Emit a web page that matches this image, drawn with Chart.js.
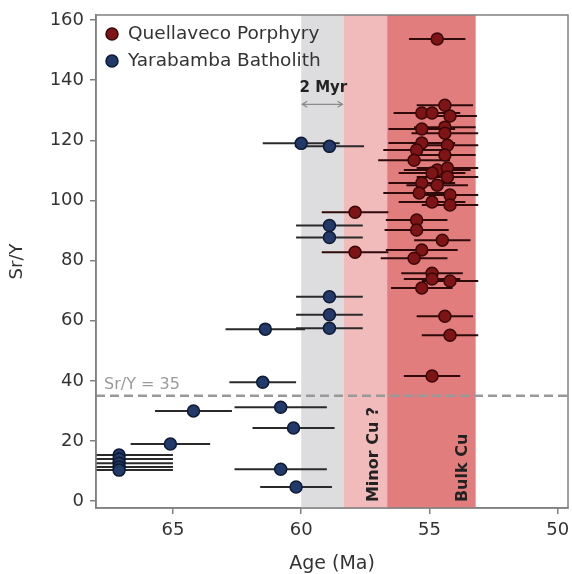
<!DOCTYPE html>
<html lang="en">
<head>
  <meta charset="UTF-8">
  <title>Sr/Y vs Age</title>
  <script src="https://cdnjs.cloudflare.com/ajax/libs/Chart.js/4.4.1/chart.umd.min.js"></script>
  <style>
    body { margin: 0; background: #fff; }
    #chart-container { width: 572px; height: 574px; }
  </style>
</head>
<body>
  <div id="chart-container">
    <canvas id="myChart" width="572" height="574"></canvas>
  </div>
  <script>
    // Quellaveco Porphyry: age (Ma), Sr/Y, age error (Ma)
    const quellAge = [54.7, 54.4, 55.3, 54.9, 54.2, 55.3, 54.4, 54.4, 55.3, 54.3,
                      55.5, 54.4, 55.6, 54.7, 54.3, 54.9, 54.3, 55.3, 54.7, 55.4,
                      54.2, 54.9, 54.2, 55.5, 55.5, 54.5, 55.3, 55.6, 54.9, 54.9,
                      54.2, 55.3, 54.4, 54.2, 54.9, 57.9, 57.9];
    const quellSrY = [153.7, 131.7, 129.1, 129.1, 128.1, 123.8, 124.4, 122.4, 119.1, 118.4,
                      116.8, 115.1, 113.4, 110.1, 110.8, 109.1, 107.8, 105.8, 105.1, 102.5,
                      101.8, 99.5, 98.5, 93.5, 90.2, 86.8, 83.5, 80.8, 75.8, 73.9,
                      73.2, 70.9, 61.5, 55.2, 41.6, 96.1, 82.8];
    const quellErr = [1.1, 1.1, 1.1, 1.1, 1.05, 1.3, 1.2, 1.3, 1.3, 1.2,
                      1.3, 1.2, 1.4, 1.3, 1.2, 1.3, 1.2, 1.3, 1.2, 1.4,
                      1.1, 1.3, 1.1, 1.2, 1.25, 1.1, 1.4, 1.3, 1.2, 1.1,
                      1.1, 1.2, 1.1, 1.1, 1.1, 1.3, 1.3];

    // Yarabamba Batholith
    const yaraAge = [60.0, 58.9, 58.9, 58.9, 58.9, 58.9, 58.9, 61.4, 61.5, 64.2,
                     60.8, 60.3, 65.1, 60.8, 60.2, 67.1, 67.1, 67.1, 67.1, 67.1];
    const yaraSrY = [119, 118, 91.7, 87.7, 68, 62, 57.5, 57.2, 39.5, 30,
                     31.2, 24.3, 19, 10.6, 4.7, 15.3, 14, 12.6, 11.3, 10.3];
    const yaraErr = [1.5, 1.35, 1.3, 1.3, 1.3, 1.3, 1.3, 1.55, 1.3, 1.5,
                     1.8, 1.6, 1.55, 1.8, 1.4, 2.1, 2.1, 2.1, 2.1, 2.1];

    const xTicks = [65, 60, 55, 50];
    const yTicks = [0, 20, 40, 60, 80, 100, 120, 140, 160];

    // age windows (Ma)
    const bandStart = [60, 58.35, 56.65];
    const bandEnd = [58.35, 56.65, 53.2];
    const bandColor = ['#dddddf', '#f1bbbb', '#e27d7d'];
    const srYThreshold = 35;

    const FONT = 'DejaVu Sans';

    function toPoints(age, val, err) {
      return age.map((a, i) => ({ x: a, y: val[i], err: err[i] }));
    }

    const overlay = {
      id: 'overlay',
      beforeDatasetsDraw(chart) {
        const { ctx, chartArea: a, scales: { x, y } } = chart;
        ctx.save();
        ctx.beginPath();
        ctx.rect(a.left, a.top, a.width, a.height);
        ctx.clip();

        bandStart.forEach((s, i) => {
          const x0 = x.getPixelForValue(s), x1 = x.getPixelForValue(bandEnd[i]);
          ctx.fillStyle = bandColor[i];
          ctx.fillRect(Math.min(x0, x1), a.top, Math.abs(x1 - x0), a.height);
        });

        // Sr/Y = 35 line
        const yt = y.getPixelForValue(srYThreshold);
        ctx.strokeStyle = '#999';
        ctx.lineWidth = 2.5;
        ctx.setLineDash([9, 5]);
        ctx.beginPath();
        ctx.moveTo(a.left, yt);
        ctx.lineTo(a.right, yt);
        ctx.stroke();
        ctx.setLineDash([]);

        // horizontal age error bars
        for (let d = chart.data.datasets.length - 1; d >= 0; d--) {
          const ds = chart.data.datasets[d];
          ctx.strokeStyle = ds.errColor;
          ctx.lineWidth = 2;
          ds.data.forEach(p => {
            const py = y.getPixelForValue(p.y);
            ctx.beginPath();
            ctx.moveTo(x.getPixelForValue(p.x + p.err), py);
            ctx.lineTo(x.getPixelForValue(p.x - p.err), py);
            ctx.stroke();
          });
        }
        ctx.restore();
      },
      afterDatasetsDraw(chart) {
        const { ctx, chartArea: a, scales: { x, y } } = chart;
        ctx.save();

        // threshold label
        ctx.fillStyle = '#9a9a9a';
        ctx.font = '16px ' + FONT;
        ctx.textAlign = 'left';
        ctx.textBaseline = 'alphabetic';
        ctx.fillText('Sr/Y = 35', a.left + 8, y.getPixelForValue(srYThreshold) - 7);

        // 2 Myr arrow
        const ax0 = x.getPixelForValue(bandStart[0]);
        const ax1 = x.getPixelForValue(bandEnd[0]);
        const ay = y.getPixelForValue(132);
        ctx.strokeStyle = '#8a8a8a';
        ctx.lineWidth = 1.2;
        ctx.beginPath();
        ctx.moveTo(ax0 + 1, ay); ctx.lineTo(ax1 - 1, ay);
        ctx.moveTo(ax0 + 6, ay - 3); ctx.lineTo(ax0 + 1, ay); ctx.lineTo(ax0 + 6, ay + 3);
        ctx.moveTo(ax1 - 6, ay - 3); ctx.lineTo(ax1 - 1, ay); ctx.lineTo(ax1 - 6, ay + 3);
        ctx.stroke();
        ctx.fillStyle = '#222';
        ctx.font = 'bold 15px ' + FONT;
        ctx.textAlign = 'center';
        ctx.fillText('2 Myr', (ax0 + ax1) / 2 + 1, y.getPixelForValue(136));

        // rotated band labels
        ctx.font = 'bold 16px ' + FONT;
        ctx.textAlign = 'left';
        ctx.textBaseline = 'middle';
        [['Minor Cu ?', 57.15], ['Bulk Cu', 53.7]].forEach(([t, age]) => {
          ctx.save();
          ctx.translate(x.getPixelForValue(age), y.getPixelForValue(0) + 1);
          ctx.rotate(-Math.PI / 2);
          ctx.fillText(t, 0, 0);
          ctx.restore();
        });

        // legend
        ctx.font = '18.5px ' + FONT;
        ctx.textBaseline = 'middle';
        chart.data.datasets.forEach((ds, i) => {
          const ly = a.top + 19 + i * 27;
          ctx.beginPath();
          ctx.arc(a.left + 16, ly, 6, 0, Math.PI * 2);
          ctx.fillStyle = ds.backgroundColor;
          ctx.fill();
          ctx.lineWidth = 1.5;
          ctx.strokeStyle = ds.borderColor;
          ctx.stroke();
          ctx.fillStyle = '#333';
          ctx.fillText(ds.label, a.left + 32, ly);
        });

        // frame
        ctx.strokeStyle = '#808080';
        ctx.lineWidth = 1.5;
        ctx.strokeRect(a.left, a.top, a.width, a.height);
        ctx.restore();
      }
    };

    const axisGrid = { drawOnChartArea: false, drawTicks: true, tickLength: 6, color: '#808080', lineWidth: 1.5 };

    new Chart(document.getElementById('myChart'), {
      type: 'scatter',
      data: {
        datasets: [{
          label: 'Quellaveco Porphyry',
          data: toPoints(quellAge, quellSrY, quellErr),
          backgroundColor: '#7e1416',
          borderColor: '#3a0707',
          errColor: '#2e0a0a',
          pointRadius: 6,
          borderWidth: 1.5
        }, {
          label: 'Yarabamba Batholith',
          data: toPoints(yaraAge, yaraSrY, yaraErr),
          backgroundColor: '#213a69',
          borderColor: '#0e1a33',
          errColor: '#2a2a2a',
          pointRadius: 6,
          borderWidth: 1.5
        }]
      },
      options: {
        responsive: false,
        animation: false,
        layout: { autoPadding: false, padding: { top: 15, right: 4, left: 0, bottom: 0 } },
        plugins: { legend: { display: false }, tooltip: { enabled: false } },
        scales: {
          x: {
            type: 'linear',
            reverse: true,
            min: 49.6,
            max: 68,
            afterBuildTicks: s => { s.ticks = xTicks.map(v => ({ value: v })); },
            afterFit: s => { s.height = 66; s.paddingLeft = 0; s.paddingRight = 0; },
            grid: axisGrid,
            border: { color: '#808080', width: 1.5 },
            ticks: { font: { family: FONT, size: 18 }, color: '#333', padding: 6, maxRotation: 0 },
            title: { display: true, text: 'Age (Ma)', font: { family: FONT, size: 19, lineHeight: 1 }, color: '#333', padding: 0 }
          },
          y: {
            min: -2.3,
            max: 161.7,
            afterBuildTicks: s => { s.ticks = yTicks.map(v => ({ value: v })); },
            afterFit: s => { s.width = 96; s.paddingTop = 0; s.paddingBottom = 0; },
            grid: axisGrid,
            border: { color: '#808080', width: 1.5 },
            ticks: { font: { family: FONT, size: 18 }, color: '#333', padding: 6 },
            title: { display: true, text: 'Sr/Y', font: { family: FONT, size: 18 }, color: '#333', padding: { top: 7, bottom: 0 } }
          }
        }
      },
      plugins: [overlay]
    });
  </script>
</body>
</html>
